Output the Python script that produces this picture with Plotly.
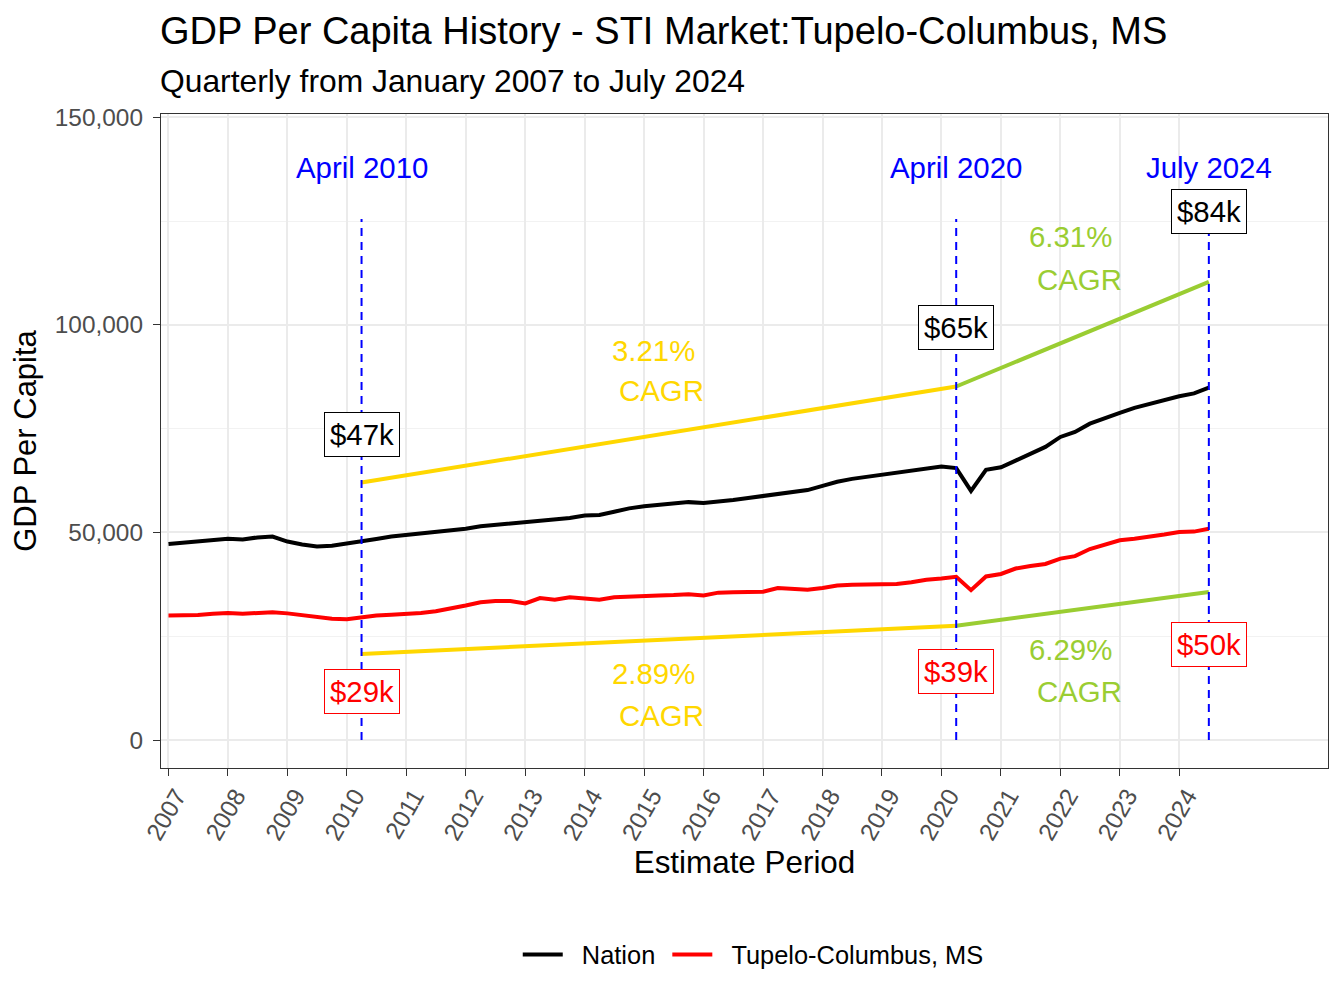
import pandas as pd
import plotly.graph_objects as go

# quarterly estimate periods, Jan 2007 .. Jul 2024
quarters = pd.date_range("2007-01-01", "2024-07-01", freq="QS")

# GDP per capita, dollars
nation = [
    47200, 47500, 47800, 48100,
    48500, 48300, 48800, 49000,
    47800, 47100, 46600, 46800,
    47300, 47700, 48400, 49000,
    49400, 49600, 50000, 50400,
    50900, 51500, 51800, 52100,
    52500, 52800, 53100, 53500,
    54100, 54200, 55000, 55800,
    56300, 56600, 57000, 57300,
    57100, 57400, 57800, 58300,
    58800, 59200, 59600, 60200,
    61200, 62200, 62900, 63400,
    63800, 64400, 65000, 65400,
    65900, 65500, 60000, 65100,
    65700, 67300, 69000, 70600,
    73000, 74200, 76200, 77600,
    78800, 80000, 81000, 81800,
    82800, 83500, 84900,
]
tupelo = [
    30000, 30000, 30100, 30400,
    30600, 30400, 30600, 30800,
    30500, 30000, 29600, 29200,
    29100, 29600, 30000, 30200,
    30300, 30600, 31000, 31600,
    32400, 33200, 33500, 33500,
    32900, 34200, 33800, 34400,
    34000, 33800, 34400, 34600,
    34700, 34800, 34900, 35100,
    34800, 35500, 35600, 35600,
    35700, 36600, 36300, 36200,
    36600, 37200, 37400, 37400,
    37400, 37600, 38000, 38600,
    38900, 39300, 36100, 39400,
    40000, 41300, 41900, 42400,
    43700, 44300, 46000, 47000,
    48100, 48500, 48900, 49500,
    50100, 50200, 50900,
]

mark_dates = ["2010-04-01", "2020-04-01", "2024-07-01"]
mark_names = ["April 2010", "April 2020", "July 2024"]
nation_labels = ["$47k", "$65k", "$84k"]
tupelo_labels = ["$29k", "$39k", "$50k"]
nation_cagr = ["3.21%", "6.31%"]
tupelo_cagr = ["2.89%", "6.29%"]
year_ticks = [str(y) for y in range(2007, 2025)]

FONT = "Liberation Sans, Arial, sans-serif"
ANN = 29.4

# page has an 8px body margin, so the figure is drawn 8px smaller
W, H = 1336, 1000

fig = go.Figure()

# legend names padded with nbsp to space the key like ggplot does
fig.add_trace(go.Scatter(x=quarters, y=nation, mode="lines",
                         name="&nbsp;&nbsp;Nation&nbsp;",
                         line=dict(color="black", width=4)))
fig.add_trace(go.Scatter(x=quarters, y=tupelo, mode="lines",
                         name="&nbsp;&nbsp;Tupelo-Columbus, MS",
                         line=dict(color="red", width=4)))

# CAGR segments, shifted off the series so they read clearly
idx = [quarters.get_loc(pd.Timestamp(d)) for d in mark_dates]
seg_cols = ["gold", "yellowgreen"]
for k in range(2):
    xs = [mark_dates[k], mark_dates[k + 1]]
    fig.add_trace(go.Scatter(x=xs, y=[nation[idx[k]] * 1.3, nation[idx[k + 1]] * 1.3],
                             mode="lines", showlegend=False, hoverinfo="skip",
                             line=dict(color=seg_cols[k], width=4)))
    fig.add_trace(go.Scatter(x=xs, y=[tupelo[idx[k]] * 0.7, tupelo[idx[k + 1]] * 0.7],
                             mode="lines", showlegend=False, hoverinfo="skip",
                             line=dict(color=seg_cols[k], width=4)))

# dashed markers at the three periods
for d in mark_dates:
    fig.add_shape(type="line", x0=d, x1=d, y0=0, y1=125500, xref="x", yref="y",
                  line=dict(color="blue", width=2, dash="8px,6px"))

nat_lab_y = [73700, 99300, 127200]
tup_lab_y = [11600, 16600, 22900]
for k, d in enumerate(mark_dates):
    fig.add_annotation(x=d, y=137800, text=mark_names[k], showarrow=False,
                       font=dict(size=ANN, color="blue", family=FONT))
    fig.add_annotation(x=d, y=nat_lab_y[k], text=nation_labels[k], showarrow=False,
                       font=dict(size=ANN, color="black", family=FONT),
                       bgcolor="white", bordercolor="black", borderwidth=1, borderpad=5)
    fig.add_annotation(x=d, y=tup_lab_y[k], text=tupelo_labels[k], showarrow=False,
                       font=dict(size=ANN, color="red", family=FONT),
                       bgcolor="white", bordercolor="red", borderwidth=1, borderpad=5)

# CAGR text, percentage line and "CAGR" line placed separately
pct_x = ["2015-02-26", "2022-03-05"]
word_x = ["2015-04-18", "2022-04-27"]
nat_pct_y = [93900, 121200]
nat_word_y = [84100, 111000]
tup_pct_y = [15900, 21700]
tup_word_y = [6000, 11800]
for k in range(2):
    for txt, xx, yy in [(nation_cagr[k], pct_x[k], nat_pct_y[k]),
                        ("CAGR", word_x[k], nat_word_y[k]),
                        (tupelo_cagr[k], pct_x[k], tup_pct_y[k]),
                        ("CAGR", word_x[k], tup_word_y[k])]:
        fig.add_annotation(x=xx, y=yy, text=txt, showarrow=False,
                           font=dict(size=ANN, color=seg_cols[k], family=FONT))

# subtitle
fig.add_annotation(xref="paper", yref="paper", x=-3 / 1167.5, y=1.0505, xanchor="left",
                   yanchor="middle", showarrow=False,
                   text="Quarterly from January 2007 to July 2024",
                   font=dict(size=31.8, color="black", family=FONT))

fig.update_layout(
    width=W, height=H,
    margin=dict(l=152.5, r=16, t=106, b=240),
    paper_bgcolor="white", plot_bgcolor="white",
    font=dict(family=FONT, color="black"),
    title=dict(text="GDP Per Capita History - STI Market:Tupelo-Columbus, MS",
               x=152 / W, xanchor="left", y=1 - 23 / H, yanchor="middle",
               font=dict(size=38, color="black", family=FONT)),
    legend=dict(orientation="h", x=0.5075, xanchor="center", y=-0.286, yanchor="middle",
                font=dict(size=25.4, color="black", family=FONT),
                itemwidth=40),
    showlegend=True,
)

fig.update_xaxes(
    type="date", range=["2006-11-16", "2026-07-03"],
    tickvals=[y + "-01-01" for y in year_ticks], ticktext=year_ticks,
    tickangle=-60, tickfont=dict(size=24.4, color="#4D4D4D"),
    ticklabelshift=8, ticklabelstandoff=-4,
    ticks="outside", ticklen=7, tickcolor="#333333", tickwidth=1.3,
    showgrid=True, gridcolor="#EBEBEB", gridwidth=1.6,
    showline=True, linecolor="#333333", linewidth=1.3, mirror=True,
    zeroline=False,
    title=dict(text="Estimate Period", font=dict(size=31.4, color="black"), standoff=7),
)
fig.update_yaxes(
    range=[-6745, 150795], tickvals=[0, 50000, 100000, 150000], tickformat=",",
    tickfont=dict(size=24.4, color="#4D4D4D"), ticklabelstandoff=5,
    ticks="outside", ticklen=7, tickcolor="#333333", tickwidth=1.3,
    showgrid=True, gridcolor="#EBEBEB", gridwidth=1.6,
    minor=dict(dtick=25000, tick0=0, showgrid=True, gridcolor="#F2F2F2", gridwidth=0.8),
    showline=True, linecolor="#333333", linewidth=1.3, mirror=True,
    zeroline=False,
    title=dict(text="GDP Per Capita", font=dict(size=31, color="black"), standoff=10),
)

fig.write_html("out.html")
